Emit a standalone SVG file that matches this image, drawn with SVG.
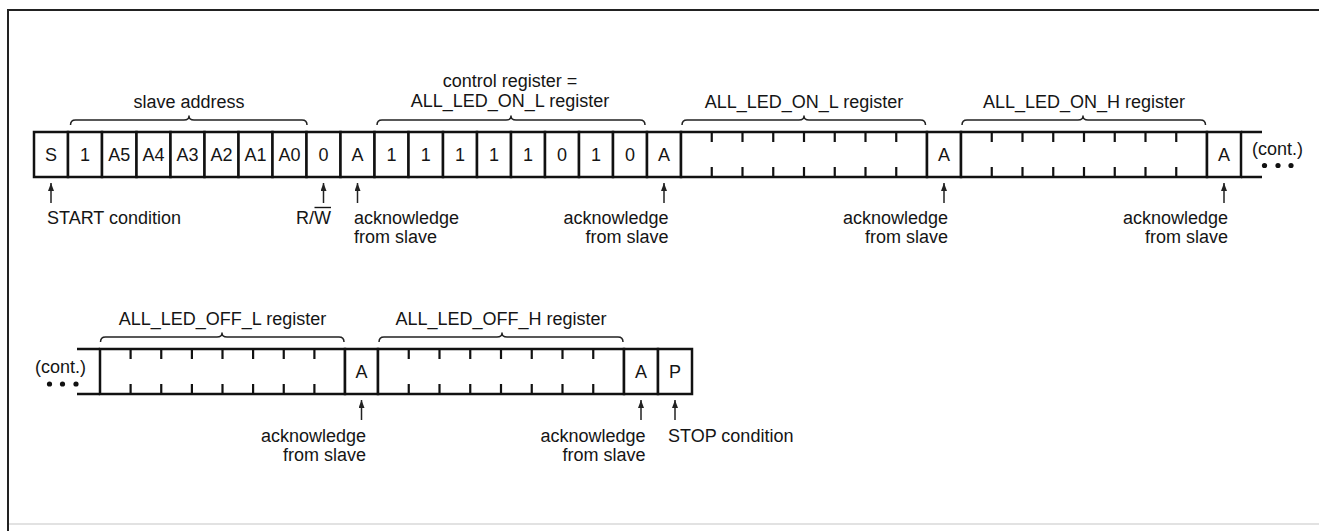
<svg xmlns="http://www.w3.org/2000/svg" width="1319" height="531" viewBox="0 0 1319 531">
  <defs>
    <style>
      text { font-family: "Liberation Sans", Arial, Helvetica, sans-serif; font-size: 18px; fill: #151515; }
      .mid { text-anchor: middle; }
      .end { text-anchor: end; }
      .cell { fill: #ffffff; stroke: #111111; stroke-width: 2.5; }
      .bus { stroke: #111111; stroke-width: 2.5; fill: none; }
      .tick { stroke: #111111; stroke-width: 2.2; }
      .brace { fill: none; stroke: #222222; stroke-width: 1.5; stroke-linejoin: round; }
      .arrow { stroke: #222222; stroke-width: 1.5; marker-end: url(#head); }
      .dot { fill: #111111; }
    </style>
    <marker id="head" viewBox="0 0 8 6" refX="8" refY="3" markerWidth="8" markerHeight="6" markerUnits="userSpaceOnUse" orient="auto">
      <path d="M0,0 L8,3 L0,6 z" fill="#222222"/>
    </marker>
    <!-- eight-bit data byte: outline plus seven tick pairs, 246 wide -->
    <g id="byte-top">
      <rect class="cell" x="0" y="0" width="246" height="45"/>
      <path class="tick" d="M30.75,0v10M61.5,0v10M92.25,0v10M123,0v10M153.75,0v10M184.5,0v10M215.25,0v10M30.75,45v-10M61.5,45v-10M92.25,45v-10M123,45v-10M153.75,45v-10M184.5,45v-10M215.25,45v-10"/>
    </g>
  </defs>

  <rect x="0" y="0" width="1319" height="531" fill="#ffffff"/>

  <!-- frame -->
  <g id="frame">
    <line x1="8" y1="10" x2="1319" y2="10" stroke="#222" stroke-width="2"/>
    <line x1="8" y1="9" x2="8" y2="531" stroke="#222" stroke-width="2"/>
    <line x1="9" y1="524" x2="1319" y2="524" stroke="#d8d8d8" stroke-width="1.5"/>
  </g>

  <!-- ===== first transfer line ===== -->
  <g id="field-start">
    <rect class="cell" x="34" y="132" width="34" height="45"/>
    <text class="mid" x="51" y="161">S</text>
  </g>
  <g id="field-slave-address">
    <rect class="cell" x="68" y="132" width="34" height="45"/>
    <rect class="cell" x="102" y="132" width="34.5" height="45"/>
    <rect class="cell" x="136.5" y="132" width="34" height="45"/>
    <rect class="cell" x="170.5" y="132" width="34" height="45"/>
    <rect class="cell" x="204.5" y="132" width="34" height="45"/>
    <rect class="cell" x="238.5" y="132" width="34" height="45"/>
    <rect class="cell" x="272.5" y="132" width="34" height="45"/>
    <text class="mid" x="85" y="161">1</text>
    <text class="mid" x="119.25" y="161">A5</text>
    <text class="mid" x="153.5" y="161">A4</text>
    <text class="mid" x="187.5" y="161">A3</text>
    <text class="mid" x="221.5" y="161">A2</text>
    <text class="mid" x="255.5" y="161">A1</text>
    <text class="mid" x="289.5" y="161">A0</text>
  </g>
  <g id="field-rw">
    <rect class="cell" x="306.5" y="132" width="34" height="45"/>
    <text class="mid" x="323.5" y="161">0</text>
  </g>
  <g id="field-ack-1">
    <rect class="cell" x="340.5" y="132" width="34" height="45"/>
    <text class="mid" x="357.5" y="161">A</text>
  </g>
  <g id="field-control-register">
    <rect class="cell" x="374.5" y="132" width="34" height="45"/>
    <rect class="cell" x="408.5" y="132" width="34.5" height="45"/>
    <rect class="cell" x="443" y="132" width="34" height="45"/>
    <rect class="cell" x="477" y="132" width="34" height="45"/>
    <rect class="cell" x="511" y="132" width="34" height="45"/>
    <rect class="cell" x="545" y="132" width="34" height="45"/>
    <rect class="cell" x="579" y="132" width="34" height="45"/>
    <rect class="cell" x="613" y="132" width="34" height="45"/>
    <text class="mid" x="391.5" y="161">1</text>
    <text class="mid" x="425.75" y="161">1</text>
    <text class="mid" x="460" y="161">1</text>
    <text class="mid" x="494" y="161">1</text>
    <text class="mid" x="528" y="161">1</text>
    <text class="mid" x="562" y="161">0</text>
    <text class="mid" x="596" y="161">1</text>
    <text class="mid" x="630" y="161">0</text>
  </g>
  <g id="field-ack-2">
    <rect class="cell" x="647" y="132" width="34" height="45"/>
    <text class="mid" x="664" y="161">A</text>
  </g>
  <g id="field-on-l">
    <use href="#byte-top" x="681" y="132"/>
  </g>
  <g id="field-ack-3">
    <rect class="cell" x="927" y="132" width="34" height="45"/>
    <text class="mid" x="944" y="161">A</text>
  </g>
  <g id="field-on-h">
    <use href="#byte-top" x="961" y="132"/>
  </g>
  <g id="field-ack-4">
    <rect class="cell" x="1207" y="132" width="34" height="45"/>
    <text class="mid" x="1224" y="161">A</text>
  </g>
  <g id="cont-out">
    <path class="bus" d="M1241,132H1262M1241,177H1262"/>
    <text x="1252" y="155">(cont.)</text>
    <circle class="dot" cx="1264.5" cy="165.5" r="2.6"/>
    <circle class="dot" cx="1278" cy="165.5" r="2.6"/>
    <circle class="dot" cx="1291" cy="165.5" r="2.6"/>
  </g>

  <!-- ===== second transfer line ===== -->
  <g id="cont-in">
    <path class="bus" d="M77,349H100M77,394H100"/>
    <text x="35" y="373">(cont.)</text>
    <circle class="dot" cx="49.5" cy="384" r="2.6"/>
    <circle class="dot" cx="62.5" cy="384" r="2.6"/>
    <circle class="dot" cx="76" cy="384" r="2.6"/>
  </g>
  <g id="field-off-l">
    <rect class="cell" x="100" y="349" width="245" height="45"/>
    <path class="tick" d="M130.6,349v10M161.25,349v10M191.9,349v10M222.5,349v10M253.1,349v10M283.75,349v10M314.4,349v10M130.6,394v-10M161.25,394v-10M191.9,394v-10M222.5,394v-10M253.1,394v-10M283.75,394v-10M314.4,394v-10"/>
  </g>
  <g id="field-ack-5">
    <rect class="cell" x="345" y="349" width="33" height="45"/>
    <text class="mid" x="361.5" y="378">A</text>
  </g>
  <g id="field-off-h">
    <use href="#byte-top" x="378" y="349"/>
  </g>
  <g id="field-ack-6">
    <rect class="cell" x="624" y="349" width="34" height="45"/>
    <text class="mid" x="641" y="378">A</text>
  </g>
  <g id="field-stop">
    <rect class="cell" x="658" y="349" width="34" height="45"/>
    <text class="mid" x="675" y="378">P</text>
  </g>

  <!-- ===== braces and group titles ===== -->
  <g id="group-labels">
    <path class="brace" d="M70.5,125Q70.5,120 75.5,120H184Q189,120 189,116Q189,120 194,120H302Q307,120 307,125"/>
    <text class="mid" x="189" y="108">slave address</text>

    <path class="brace" d="M377,125Q377,120 382,120H506Q511,120 511,116Q511,120 516,120H640Q645,120 645,125"/>
    <text class="mid" x="510" y="87">control register =</text>
    <text class="mid" x="510" y="107">ALL_LED_ON_L register</text>

    <path class="brace" d="M682,125Q682,120 687,120H799Q804,120 804,116Q804,120 809,120H920.5Q925.5,120 925.5,125"/>
    <text class="mid" x="804" y="108">ALL_LED_ON_L register</text>

    <path class="brace" d="M962,125Q962,120 967,120H1078Q1083,120 1083,116Q1083,120 1088,120H1200.5Q1205.5,120 1205.5,125"/>
    <text class="mid" x="1084" y="108">ALL_LED_ON_H register</text>

    <path class="brace" d="M100.5,342Q100.5,337 105.5,337H217Q222,337 222,333Q222,337 227,337H339Q344,337 344,342"/>
    <text class="mid" x="222.5" y="325">ALL_LED_OFF_L register</text>

    <path class="brace" d="M379,342Q379,337 384,337H497Q502,337 502,333Q502,337 507,337H618Q623,337 623,342"/>
    <text class="mid" x="501" y="325">ALL_LED_OFF_H register</text>
  </g>

  <!-- ===== pointer arrows ===== -->
  <g id="connectors">
    <line class="arrow" x1="51" y1="203" x2="51" y2="183"/>
    <line class="arrow" x1="323.5" y1="203" x2="323.5" y2="183"/>
    <line class="arrow" x1="357.5" y1="203" x2="357.5" y2="183"/>
    <line class="arrow" x1="664" y1="203" x2="664" y2="183"/>
    <line class="arrow" x1="944" y1="203" x2="944" y2="183"/>
    <line class="arrow" x1="1224" y1="203" x2="1224" y2="183"/>
    <line class="arrow" x1="361.5" y1="420" x2="361.5" y2="400"/>
    <line class="arrow" x1="641" y1="420" x2="641" y2="400"/>
    <line class="arrow" x1="675" y1="420" x2="675" y2="400"/>
  </g>

  <!-- ===== pointer captions ===== -->
  <g id="captions">
    <text x="47" y="224">START condition</text>
    <text class="end" x="331" y="224">R/W</text>
    <line x1="314.5" y1="207.5" x2="331" y2="207.5" stroke="#151515" stroke-width="1.4"/>

    <text x="354" y="224">acknowledge</text>
    <text x="354" y="243">from slave</text>

    <text class="end" x="668.5" y="224">acknowledge</text>
    <text class="end" x="668.5" y="243">from slave</text>

    <text class="end" x="948" y="224">acknowledge</text>
    <text class="end" x="948" y="243">from slave</text>

    <text class="end" x="1228" y="224">acknowledge</text>
    <text class="end" x="1228" y="243">from slave</text>

    <text class="end" x="366" y="442">acknowledge</text>
    <text class="end" x="366" y="461">from slave</text>

    <text class="end" x="645.5" y="442">acknowledge</text>
    <text class="end" x="645.5" y="461">from slave</text>

    <text x="668" y="442">STOP condition</text>
  </g>
</svg>
